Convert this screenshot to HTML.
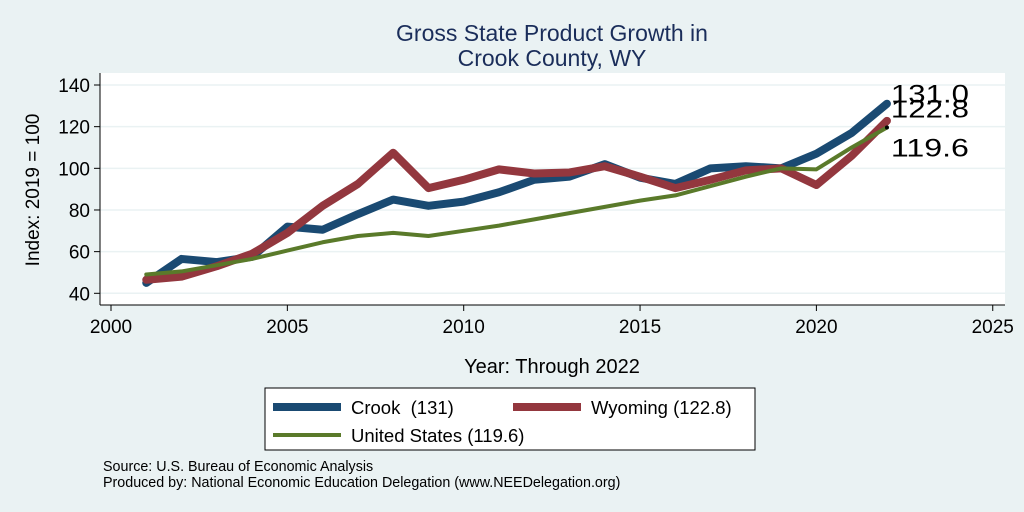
<!DOCTYPE html>
<html><head><meta charset="utf-8"><style>
body{margin:0;background:#eaf2f3;}
svg{display:block;font-family:"Liberation Sans",sans-serif;}
</style></head><body>
<svg width="1024" height="512" id="chart">
<rect x="0" y="0" width="1024" height="512" fill="#eaf2f3"/>
<text x="552" y="41" text-anchor="middle" font-size="23" fill="#1a2d5a">Gross State Product Growth in</text>
<text x="552" y="66" text-anchor="middle" font-size="23" fill="#1a2d5a">Crook County, WY</text>
<rect x="100" y="73" width="905" height="232" fill="#fff"/>
<g id="grid"></g><g id="axes"></g><g id="series"></g>
<text transform="translate(39,190) rotate(-90)" text-anchor="middle" font-size="19" fill="#000">Index: 2019 = 100</text>
<text x="552" y="373" text-anchor="middle" font-size="20" fill="#000">Year: Through 2022</text>
<g>
<rect x="265" y="388" width="490" height="62" fill="#fff" stroke="#000" stroke-width="1"/>
<line x1="273" y1="407" x2="341" y2="407" stroke="#1a4a72" stroke-width="8"/>
<text x="351" y="414" font-size="18.5" xml:space="preserve">Crook  (131)</text>
<line x1="513" y1="407" x2="581" y2="407" stroke="#93373e" stroke-width="8"/>
<text x="591" y="414" font-size="18.5">Wyoming (122.8)</text>
<line x1="273" y1="435" x2="341" y2="435" stroke="#5a7a2a" stroke-width="4"/>
<text x="351" y="442" font-size="18.5">United States (119.6)</text>
</g>
<text x="103" y="471" font-size="14.3">Source: U.S. Bureau of Economic Analysis</text>
<text x="103" y="487" font-size="14.3">Produced by: National Economic Education Delegation (www.NEEDelegation.org)</text>
</svg>
<script>
const years=[2001,2002,2003,2004,2005,2006,2007,2008,2009,2010,2011,2012,2013,2014,2015,2016,2017,2018,2019,2020,2021,2022];
const crook=[45,56.5,55,57.5,72,70.5,78,85,82,84,88.5,94.5,96,102,95.5,92.5,100,101,100,107,117,131];
const wyoming=[46.5,48,53,59,69,82,92.5,107.5,90.5,94.5,99.5,97.5,98,101,96,90.5,94.5,99,100,92,106,122.8];
const us=[49,50.5,53.5,56.5,60.5,64.5,67.5,69,67.5,70,72.5,75.5,78.5,81.5,84.5,87,91.5,96,100,99.5,110,119.6];
const yTicks=[40,60,80,100,120,140];
const xTicks=[2000,2005,2010,2015,2020,2025];
const endLabels=["131.0","122.8","119.6"];
const NS="http://www.w3.org/2000/svg";
const X=v=>111+(v-2000)*35.27;
const Y=v=>293.3-(v-40)*2.083;
function mk(tag,attrs,parent,txt){const e=document.createElementNS(NS,tag);for(const k in attrs)e.setAttribute(k,attrs[k]);if(txt!==undefined)e.textContent=txt;parent.appendChild(e);return e;}
const grid=document.getElementById('grid'),axes=document.getElementById('axes'),ser=document.getElementById('series');
yTicks.forEach(t=>{
 const g=mk('line',{x1:100,x2:1005,y1:Y(t),y2:Y(t),stroke:'#eaf2f3','stroke-width':1.5},grid);
 
 
 mk('line',{x1:94,x2:100,y1:Y(t),y2:Y(t),stroke:'#000'},axes);
 const l=mk('text',{x:90,y:Y(t)+7,'text-anchor':'end','font-size':19},axes,t);
 
 
});
mk('line',{x1:100,x2:100,y1:73,y2:305,stroke:'#000'},axes);
mk('line',{x1:100,x2:1005,y1:305,y2:305,stroke:'#000'},axes);
xTicks.forEach(t=>{
 mk('line',{x1:X(t),x2:X(t),y1:305,y2:311,stroke:'#000'},axes);
 const l=mk('text',{x:X(t),y:333,'text-anchor':'middle','font-size':19},axes,t);
 
 
});
function line(vals,color,w,name){
 const p=mk('polyline',{points:vals.map((v,i)=>X(years[i])+','+Y(v)).join(' '),fill:'none',stroke:color,'stroke-width':w,'stroke-linejoin':'round','stroke-linecap':'round'},ser);
 
 
}
line(crook,'#1a4a72',8,'line-crook');
line(wyoming,'#93373e',8,'line-wyoming');
line(us,'#5a7a2a',4,'line-us');
const n=years.length-1,lx=X(years[n])+4;
const d=mk('circle',{cx:X(years[n]),cy:Y(us[n]),r:2,fill:'#000'},ser);


const l1=mk('text',{x:lx,y:Y(crook[n])-1,'font-size':25,textLength:78,lengthAdjust:'spacingAndGlyphs'},ser,endLabels[0]);


const l2=mk('text',{x:lx,y:Y(crook[n])+14,'font-size':25,textLength:78,lengthAdjust:'spacingAndGlyphs'},ser,endLabels[1]);


const l3=mk('text',{x:lx,y:Y(us[n])+29,'font-size':25,textLength:78,lengthAdjust:'spacingAndGlyphs'},ser,endLabels[2]);


</script>
</body></html>
